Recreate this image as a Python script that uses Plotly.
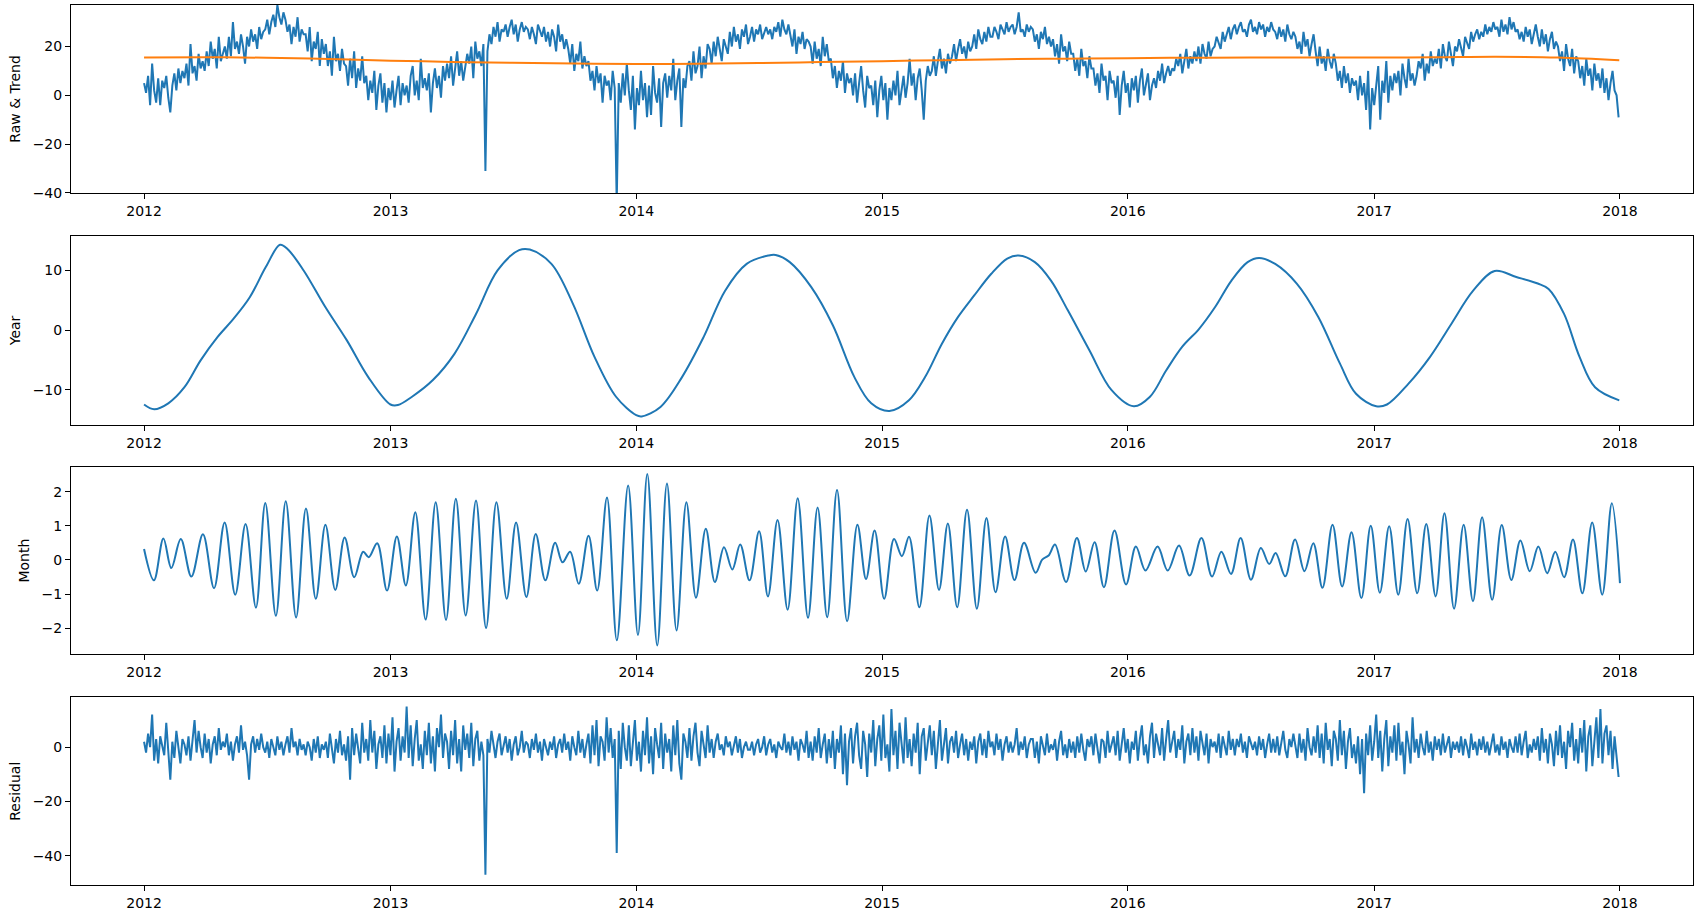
import pandas as pd
import plotly.graph_objects as go

# ---------------- data ----------------
tick_labels = ["2012", "2013", "2014", "2015", "2016", "2017", "2018"]
raw_yticks = [-40, -20, 0, 20]
year_yticks = [-10, 0, 10]
month_yticks = [-2, -1, 0, 1, 2]
resid_yticks = [-40, -20, 0]

noisy_start = "2012-01-01"
noisy_step_days = 3

raw_values = [
    5, 1, 8, -4, 13, 2, -3, 7, -4, 6,
    3, 8, -1, -7, 4, 9, 2, 11, 5, 10,
    7, 13, 4, 21, 9, 12, 6, 17, 11, 14,
    10, 18, 12, 22, 15, 19, 11, 24, 14, 17,
    20, 15, 24, 16, 30, 19, 22, 17, 25, 20,
    13, 24, 20, 27, 22, 25, 19, 28, 23, 26,
    27, 31, 25, 30, 33, 28, 37, 32, 29, 34,
    31, 26, 29, 21, 28, 24, 32, 22, 27, 25,
    25, 18, 28, 14, 22, 19, 26, 12, 23, 17,
    21, 12, 18, 8, 24, 14, 17, 10, 19, 13,
    12, 4, 15, 7, 18, 3, 11, 6, 16, 5,
    8, -2, 6, 1, 10, -6, 4, 9, -3, 5,
    -7, 3, -2, 6, -5, 2, 8, -4, 5, 0,
    4, -3, 8, 12, 0, 6, -2, 15, 3, 7,
    2, 9, -7, 5, 11, 3, 8, -1, 12, 6,
    13, 7, 16, 4, 12, 18, 8, 14, 6, 11,
    17, 13, 20, 7, 22, 15, 18, 12, 21, -31,
    18, 25, 21, 28, 24, 30, 22, 27, 26, 29,
    24, 28, 31, 25, 29, 22, 27, 30, 26, 28,
    27, 23, 28, 25, 21, 29, 26, 24, 28, 22,
    26, 20, 27, 24, 18, 29, 22, 25, 19, 23,
    19, 13, 21, 10, 17, 14, 22, 11, 16, 12,
    14, 6, 10, 2, 12, 5, 9, -3, 8, 4,
    6, -2, 10, 3, -44, 5, -3, 9, 0, 13,
    2, -6, 8, -14, 3, -4, 10, -2, 5, -9,
    4, -8, 12, 1, -3, 7, -13, 5, 9, -1,
    8, 2, 15, -2, 6, 11, -13, 7, 3, 12,
    14, 6, 18, 9, 12, 20, 7, 16, 11, 21,
    19, 13, 22, 16, 24, 18, 14, 23, 20, 17,
    26, 20, 28, 22, 25, 19, 27, 24, 29, 21,
    24, 28, 22, 27, 25, 29, 23, 26, 28, 25,
    27, 23, 28, 26, 30, 24, 31, 27, 25, 29,
    25, 20, 27, 17, 24, 21, 26, 19, 23, 22,
    20, 13, 22, 15, 19, 12, 24, 16, 21, 14,
    15, 7, 12, 3, 10, 6, 14, 1, 9, 5,
    7, 0, 9, -3, 5, 12, 2, -5, 8, 3,
    4, -4, 6, -9, 2, 8, -2, 5, -10, 3,
    -2, 6, 0, 10, -4, 3, 8, -1, 5, 15,
    4, 9, -2, 7, 11, 2, -10, 6, 12, 8,
    10, 16, 8, 14, 19, 11, 15, 9, 17, 13,
    16, 21, 14, 19, 23, 17, 20, 15, 22, 18,
    20, 25, 19, 27, 23, 21, 26, 22, 28, 24,
    24, 28, 26, 23, 29, 27, 25, 30, 26, 28,
    29, 25, 28, 34, 26, 27, 24, 29, 26, 28,
    27, 22, 25, 19, 26, 23, 28, 21, 24, 20,
    23, 16, 21, 13, 25, 18, 20, 14, 22, 17,
    17, 10, 15, 8, 19, 12, 14, 7, 16, 11,
    11, 4, 9, 1, 13, 6, 8, -2, 10, 5,
    6, -1, 8, -8, 4, 10, 1, 5, -5, 7,
    2, 8, -3, 6, 11, 0, 5, 9, -2, 4,
    7, 3, 10, 6, 13, 5, 9, 12, 8, 11,
    10, 15, 12, 17, 9, 14, 19, 11, 16, 13,
    18, 14, 20, 13, 21, 17, 15, 22, 16, 19,
    20, 24, 21, 19, 26, 22, 25, 28, 23, 27,
    29, 25, 28, 30, 26, 27, 24, 29, 31, 26,
    28, 25, 30, 27, 29, 24, 28, 26, 30, 27,
    26, 23, 28, 24, 27, 22, 29, 25, 23, 26,
    24, 19, 22, 17, 26, 20, 23, 16, 21, 25,
    18, 12, 20, 13, 16, 10, 19, 14, 11, 17,
    13, 6, 10, 3, 12, 5, 9, 1, 7, 4,
    6, -2, 8, 0, 5, -6, 10, -14, 3, -4,
    4, 12, -10, 6, 1, 14, -3, 8, 2, 9,
    5, 10, 0, 13, 7, 3, 15, 6, 9, 4,
    8, 14, 11, 17, 6, 13, 9, 18, 12, 15,
    13, 19, 11, 21, 16, 14, 22, 17, 12, 20,
    18, 23, 20, 16, 24, 21, 19, 26, 22, 25,
    27, 23, 26, 24, 29, 25, 28, 26, 30, 27,
    28, 24, 31, 26, 29, 25, 32, 27, 30, 26,
    27, 23, 26, 22, 28, 24, 27, 21, 25, 29,
    24, 20, 27, 21, 25, 18, 23, 26, 19, 22,
    20, 14, 18, 10, 21, 15, 12, 19, 9, 16,
    14, 7, 12, 4, 15, 8, 11, 2, 13, 6,
    9, 3, 11, 1, 7, -2, 5, 10, 2, 0, -9,
]

residual_values = [
    2, -2, 5, 0, 12, -5, 3, -6, 4, 1,
    -3, 9, -1, -12, 2, -4, 6, 0, -6, 3,
    1, -3, 4, -5, 2, 10, -2, 6, 0, -4,
    5, -2, 3, -6, 1, 4, -3, 7, -1, 2,
    0, 5, -3, 2, -5, 1, 4, -2, 8, -1,
    2, -3, -12, 1, 4, -2, 3, -1, 5, 0,
    -2, 2, -4, 3, 0, -3, 4, -1, 2, -3,
    1, 4, -2, 7, 0, 2, -3, 3, -1, 1,
    -3, 2, 0, -5, 3, -2, 4, -4, 1, -1,
    2, -4, 5, 0, -6, 3, -2, 6, -3, 1,
    -5, 4, -12, 7, -3, 5, 0, -6, 9, -2,
    3, -5, 10, -2, 6, -8, 1, 4, -4, 8,
    -6, 5, -3, 11, -9, 2, 7, -5, 4, -2,
    15, -4, 8, -7, 3, 10, -5, 1, -8, 6,
    -3, 9, -6, 4, -9, 7, 0, 12, -4, 5,
    2, -8, 6, -3, 10, -6, 3, -9, 8, -1,
    5, -4, 9, -7, 3, 6, -5, 2, -3, -47,
    3, -2, 6, 0, -4, 2, 5, -3, 1, 4,
    -2, 3, -5, 1, 4, -3, 0, 6, -2, 2,
    1, -4, 3, -1, 5, -2, 2, -5, 3, 0,
    -3, 2, -1, 4, -4, 1, 3, -2, 5, -1,
    2, -5, 4, 0, -3, 6, -2, 3, -4, 1,
    5, -6, 8, -3, 10, -7, 4, 2, -5, 11,
    -2, 7, -4, 3, -39, 6, -8, 9, 0, -5,
    8, -7, 3, 10, -5, 2, -9, 6, -3, 11,
    -6, 4, -10, 7, 1, -4, 9, -8, 5, -2,
    3, -9, 8, -3, 10, -6, -12, 5, 2, -4,
    7, -5, 4, 9, -2, -7, 6, 0, -4, 8,
    -2, 3, -4, 2, 5, -1, 1, -3, 4, 0,
    2, -3, 1, 4, -2, 3, -4, 0, 2, -1,
    -1, 2, -3, 1, 3, -2, 0, 4, -3, 1,
    3, -2, 1, -4, 2, 0, -1, 5, -2, 2,
    -3, 4, -1, 2, -5, 3, 1, -2, 6, -4,
    2, -5, 4, -2, 7, -4, 1, 5, -6, 3,
    -4, 6, -8, 3, -2, 8, -10, 5, -14, 2,
    7, -6, 4, 9, -3, -8, 6, 1, -11, 5,
    -2, 10, -7, 3, 8, -5, 12, -4, 1, -9,
    14, -3, 6, -8, 9, 2, -6, 11, -4, 3,
    -7, 5, -2, 9, -10, 4, 7, -5, 2, 8,
    -3, 6, -8, 3, 10, -5, 1, 7, -6, 2,
    4, -2, 6, -4, 1, 5, -3, 3, -5, 2,
    -1, 4, -6, 2, 5, -3, 3, -4, 6, 0,
    2, -3, 5, -1, 3, -5, 1, 4, -2, 2,
    -2, 1, 7, -3, 2, -1, 4, -4, 1, 3,
    3, -4, 2, -6, 4, 0, -3, 5, -2, 1,
    -1, 3, -5, 2, 6, -3, 1, -4, 3, -2,
    2, -4, 4, -2, 5, -1, -5, 3, 0, 4,
    -3, 5, -1, -6, 3, 2, -4, 6, -2, 1,
    4, -3, 6, -5, 1, 7, -2, 3, -6, 2,
    -1, 6, -5, 3, 8, -3, 1, -6, 4, 9,
    -4, 5, 1, -3, 7, -5, 3, 10, -2, 2,
    6, -4, 3, -1, 8, -6, 2, 5, -3, 7,
    -2, 4, -5, 6, 1, -3, 5, -6, 3, 0,
    2, -2, 5, -4, 4, 1, -3, 6, -1, 3,
    -3, 3, 0, 5, -2, 2, -4, 4, 1, -1,
    2, -3, 4, -1, 3, -4, 1, 5, -2, 3,
    -2, 4, -3, 2, 6, -1, -4, 3, 0, 5,
    1, -4, 5, -2, 3, -5, 7, 0, -3, 4,
    -2, 8, -4, 5, -6, 9, -1, 3, -7, 6,
    3, -5, 10, -3, 6, -8, 2, 7, -4, 1,
    -6, 4, -10, 3, -17, 5, -3, 8, -5, 2,
    12, -4, 6, -9, 3, 10, -7, 4, -2, 8,
    -5, 9, -3, 2, -10, 6, 1, -6, 11, -2,
    3, -4, 5, 0, -3, 6, -2, 2, -5, 4,
    -1, 3, -3, 5, -2, 1, 4, -4, 2, -1,
    2, -2, 4, -3, 3, 0, -4, 5, -1, 2,
    -3, 3, -1, 4, -2, 2, -3, 1, 5, -2,
    1, -3, 4, -1, 2, -4, 3, 0, -2, 4,
    -2, 5, -3, 2, 6, -4, 1, -2, 3, -1,
    4, -5, 7, -2, 3, -6, 5, 1, -7, 6,
    -3, 8, -4, 2, -8, 6, 0, 9, -5, 3,
    -6, 7, -2, 10, -9, 4, 8, -7, 3, 11,
    -4, 14, -6, 5, 8, -3, 6, -8, 4, -5, -11,
]

trend_dates = [
    "2012-01-01", "2012-04-01", "2012-07-01", "2012-10-01",
    "2013-01-01", "2013-04-01", "2013-07-01", "2013-10-01",
    "2014-01-01", "2014-04-01", "2014-07-01", "2014-10-01",
    "2015-01-01", "2015-04-01", "2015-07-01", "2015-10-01",
    "2016-01-01", "2016-04-01", "2016-07-01", "2016-10-01",
    "2017-01-01", "2017-04-01", "2017-07-01", "2017-10-01",
    "2017-12-31",
]
trend_values = [
    15.5, 15.6, 15.4, 14.9,
    14.2, 13.7, 13.3, 13.0,
    12.8, 12.9, 13.2, 13.6,
    14.0, 14.4, 14.8, 15.0,
    15.2, 15.4, 15.5, 15.5,
    15.5, 15.6, 15.8, 15.5,
    14.4,
]

year_dates = [
    "2012-01-01", "2012-01-16", "2012-02-06", "2012-03-01", "2012-03-25", "2012-04-19",
    "2012-05-13", "2012-06-06", "2012-06-30", "2012-07-21", "2012-08-01", "2012-08-25",
    "2012-09-26", "2012-10-28", "2012-11-29",
    "2013-01-01", "2013-01-12", "2013-02-02", "2013-03-05", "2013-04-06", "2013-05-08",
    "2013-06-09", "2013-07-11", "2013-07-27", "2013-08-28", "2013-09-29", "2013-10-31",
    "2013-12-02",
    "2014-01-01", "2014-01-09", "2014-02-06", "2014-03-10", "2014-04-11", "2014-05-13",
    "2014-06-14", "2014-07-16", "2014-07-27", "2014-08-17", "2014-09-18", "2014-10-20",
    "2014-11-21", "2014-12-16",
    "2015-01-12", "2015-02-10", "2015-03-06", "2015-03-31", "2015-04-24", "2015-05-18",
    "2015-06-12", "2015-07-06", "2015-07-23", "2015-08-16", "2015-09-09", "2015-10-04",
    "2015-11-05", "2015-12-08",
    "2016-01-10", "2016-02-03", "2016-02-27", "2016-03-22", "2016-04-16", "2016-05-10",
    "2016-06-03", "2016-06-27", "2016-07-14", "2016-08-07", "2016-09-08", "2016-10-10",
    "2016-11-11", "2016-12-05",
    "2017-01-04", "2017-01-20", "2017-02-21", "2017-03-25", "2017-04-26", "2017-05-28",
    "2017-06-29", "2017-07-31", "2017-09-01", "2017-09-17", "2017-10-10", "2017-11-02",
    "2017-11-25", "2017-12-31",
]
year_values = [
    -12.5, -13.3, -12.3, -9.6, -5.1, -1.2,
    1.9, 5.5, 10.6, 14.3, 13.6, 10.0,
    3.9, -1.7, -7.9,
    -12.5, -12.6, -11.2, -8.4, -4.0, 2.7,
    10.0, 13.4, 13.5, 11.1, 4.4, -4.5,
    -11.2,
    -14.3, -14.5, -12.9, -7.9, -1.2, 6.6,
    11.1, 12.5, 12.6, 11.4, 7.2, 0.8,
    -7.9, -12.3,
    -13.6, -11.8, -7.9, -2.3, 2.2, 5.8,
    9.4, 12.0, 12.5, 11.4, 8.3, 3.3,
    -3.4, -10.1,
    -12.8, -11.2, -6.8, -2.8, 0.2, 3.9,
    8.3, 11.4, 12.1, 11.1, 7.8, 2.2,
    -5.6, -10.7,
    -12.8, -12.5, -9.0, -4.5, 1.1, 6.6,
    9.9, 8.9, 7.8, 6.9, 2.7, -4.5,
    -9.6, -11.8,
]

# Month component: turning points, position given as decimal year
month_t = [
    2012.000, 2012.040, 2012.0785, 2012.1106, 2012.149, 2012.192, 2012.239, 2012.284, 2012.327,
    2012.370, 2012.412, 2012.454, 2012.492, 2012.535, 2012.575, 2012.617, 2012.657, 2012.697,
    2012.736, 2012.776, 2012.814, 2012.853, 2012.889, 2012.912, 2012.946, 2012.986,
    2013.026, 2013.0625, 2013.101, 2013.143, 2013.184, 2013.226, 2013.266, 2013.306, 2013.348,
    2013.389, 2013.431, 2013.473, 2013.511, 2013.553, 2013.591, 2013.630, 2013.670, 2013.700,
    2013.731, 2013.766, 2013.806, 2013.841, 2013.881, 2013.921, 2013.967,
    2014.007, 2014.045, 2014.0855, 2014.125, 2014.164, 2014.204, 2014.243, 2014.283, 2014.320,
    2014.357, 2014.391, 2014.423, 2014.461, 2014.500, 2014.536, 2014.575, 2014.616, 2014.657,
    2014.699, 2014.738, 2014.777, 2014.817, 2014.858, 2014.900, 2014.935, 2014.970,
    2015.009, 2015.049, 2015.081, 2015.110, 2015.152, 2015.193, 2015.232, 2015.268, 2015.306,
    2015.346, 2015.386, 2015.425, 2015.462, 2015.501, 2015.539, 2015.578, 2015.625, 2015.652,
    2015.678, 2015.704, 2015.749, 2015.793, 2015.829, 2015.865, 2015.903, 2015.946, 2015.993,
    2016.033, 2016.072, 2016.121, 2016.162, 2016.208, 2016.251, 2016.299, 2016.342, 2016.380,
    2016.419, 2016.458, 2016.500, 2016.540, 2016.574, 2016.600, 2016.639, 2016.679, 2016.717,
    2016.753, 2016.790, 2016.831, 2016.870, 2016.908, 2016.948, 2016.986,
    2017.023, 2017.061, 2017.098, 2017.136, 2017.175, 2017.212, 2017.250, 2017.286, 2017.325,
    2017.364, 2017.402, 2017.439, 2017.480, 2017.519, 2017.558, 2017.595, 2017.633, 2017.668,
    2017.704, 2017.737, 2017.773, 2017.809, 2017.847, 2017.887, 2017.928, 2017.967,
    2018.000,
]
month_values = [
    0.32, -0.60, 0.63, -0.24, 0.61, -0.49, 0.75, -0.83, 1.10,
    -1.02, 1.05, -1.40, 1.67, -1.64, 1.72, -1.69, 1.51, -1.14,
    1.03, -0.88, 0.66, -0.51, 0.24, 0.08, 0.49, -0.90,
    0.69, -0.75, 1.40, -1.75, 1.69, -1.76, 1.79, -1.63, 1.74,
    -2.00, 1.69, -1.14, 1.10, -1.09, 0.76, -0.60, 0.50, -0.07,
    0.24, -0.70, 0.71, -0.90, 1.83, -2.36, 2.18,
    -2.20, 2.52, -2.51, 2.24, -2.07, 1.69, -1.11, 0.91, -0.65,
    0.37, -0.28, 0.45, -0.60, 0.84, -1.07, 1.17, -1.46, 1.81,
    -1.70, 1.54, -1.68, 2.05, -1.80, 1.03, -0.56, 0.86,
    -1.14, 0.61, 0.11, 0.68, -1.39, 1.30, -0.88, 1.07, -1.39,
    1.47, -1.43, 1.23, -0.95, 0.69, -0.59, 0.50, -0.38, 0.01,
    0.13, 0.45, -0.65, 0.64, -0.34, 0.52, -0.80, 0.86, -0.72,
    0.39, -0.31, 0.39, -0.31, 0.42, -0.46, 0.64, -0.49, 0.24,
    -0.41, 0.64, -0.58, 0.35, -0.12, 0.20, -0.48, 0.60, -0.33,
    0.49, -0.82, 1.03, -0.78, 0.81, -1.12, 1.00,
    -0.96, 0.99, -1.02, 1.20, -0.98, 1.05, -1.07, 1.37, -1.43,
    1.03, -1.21, 1.25, -1.17, 1.02, -0.59, 0.57, -0.33, 0.39,
    -0.39, 0.24, -0.51, 0.60, -0.98, 1.10, -1.02, 1.66,
    -0.68,
]


# ---------------- helpers ----------------
def decimal_year_to_date(t):
    y = int(t)
    start = pd.Timestamp(year=y, month=1, day=1)
    length = (pd.Timestamp(year=y + 1, month=1, day=1) - start).days
    return start + pd.Timedelta(days=(t - y) * length)


raw_dates = pd.date_range(start=noisy_start, periods=len(raw_values), freq=f"{noisy_step_days}D")
resid_dates = pd.date_range(start=noisy_start, periods=len(residual_values), freq=f"{noisy_step_days}D")
month_dates = [decimal_year_to_date(t) for t in month_t]
tick_vals = [f"{y}-01-01" for y in tick_labels]

BLUE = "#1f77b4"
ORANGE = "#ff7f0e"
FONT = "DejaVu Sans"

fig = go.Figure()
fig.add_trace(go.Scatter(x=raw_dates, y=raw_values, mode="lines",
                         line=dict(color=BLUE, width=2), xaxis="x", yaxis="y"))
fig.add_trace(go.Scatter(x=trend_dates, y=trend_values, mode="lines",
                         line=dict(color=ORANGE, width=2, shape="spline", smoothing=1.0),
                         xaxis="x", yaxis="y"))
fig.add_trace(go.Scatter(x=year_dates, y=year_values, mode="lines",
                         line=dict(color=BLUE, width=2, shape="spline", smoothing=1.0),
                         xaxis="x2", yaxis="y2"))
fig.add_trace(go.Scatter(x=month_dates, y=month_values, mode="lines",
                         line=dict(color=BLUE, width=2, shape="spline", smoothing=1.0),
                         xaxis="x3", yaxis="y3"))
fig.add_trace(go.Scatter(x=resid_dates, y=residual_values, mode="lines",
                         line=dict(color=BLUE, width=2), xaxis="x4", yaxis="y4"))

x_range = ["2011-09-14 12:00", "2018-04-19 12:00"]


def xaxis(anchor):
    return dict(
        domain=[0, 1], anchor=anchor, type="date", range=x_range,
        tickmode="array", tickvals=tick_vals, ticktext=tick_labels,
        ticks="outside", ticklen=5, tickwidth=1, tickcolor="black",
        showline=True, mirror=True, linecolor="black", linewidth=1,
        showgrid=False, zeroline=False,
        tickfont=dict(family=FONT, size=14, color="black"),
    )


def yaxis(anchor, domain, rng, ticks, title):
    return dict(
        domain=domain, anchor=anchor, range=rng,
        tickmode="array", tickvals=ticks,
        ticks="outside", ticklen=5, tickwidth=1, tickcolor="black",
        showline=True, mirror=True, linecolor="black", linewidth=1,
        showgrid=False, zeroline=False,
        tickfont=dict(family=FONT, size=14, color="black"),
        title=dict(text=title, font=dict(family=FONT, size=14, color="black"), standoff=8),
    )


fig.update_layout(
    width=1698, height=915,
    margin=dict(l=71, r=4, t=5, b=26),
    paper_bgcolor="white", plot_bgcolor="white",
    showlegend=False,
    font=dict(family=FONT, size=14, color="black"),
    xaxis=xaxis("y"),
    yaxis=yaxis("x", [0.7864, 1.0], [-40, 37], raw_yticks, "Raw &amp; Trend"),
    xaxis2=xaxis("y2"),
    yaxis2=yaxis("x2", [0.5230, 0.7373], [-15.9, 15.75], year_yticks, "Year"),
    xaxis3=xaxis("y3"),
    yaxis3=yaxis("x3", [0.2621, 0.4752], [-2.77, 2.73], month_yticks, "Month"),
    xaxis4=xaxis("y4"),
    yaxis4=yaxis("x4", [0.0, 0.2131], [-50.8, 18.3], resid_yticks, "Residual"),
)

fig.write_html(
    "out.html",
    config={"displayModeBar": False},
    post_script="document.body.style.margin='0';document.body.style.overflow='hidden';",
)
